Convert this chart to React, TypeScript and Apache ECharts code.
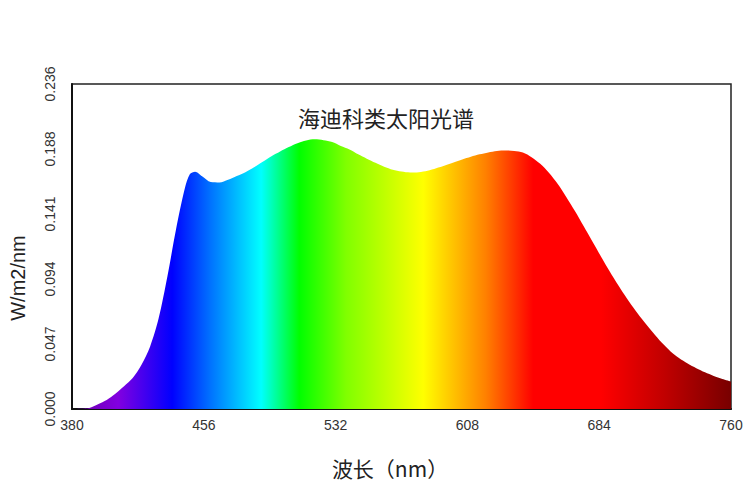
import React, { useEffect, useRef } from "react";
import * as echarts from "echarts";

const wavelengths = [
  380, 385, 390, 395, 400, 405, 410, 415, 420, 425, 430, 435, 440, 445, 448, 451, 455, 460, 465, 470,
  475, 480, 485, 490, 495, 500, 505, 510, 515, 520, 525, 530, 535, 540, 545, 550, 555, 560, 565, 570,
  575, 580, 585, 590, 595, 600, 605, 610, 615, 620, 625, 630, 635, 640, 645, 650, 655, 660, 665, 670,
  675, 680, 685, 690, 695, 700, 705, 710, 715, 720, 725, 730, 735, 740, 745, 750, 755, 760,
];
const irradiance = [
  0.0, 0.0002, 0.0008, 0.0035, 0.0065, 0.011, 0.0165, 0.0225, 0.032, 0.0452, 0.066, 0.0962, 0.1305, 0.16,
  0.1706, 0.1723, 0.169, 0.1648, 0.1645, 0.1665, 0.1692, 0.172, 0.1755, 0.1795, 0.1835, 0.187, 0.1902,
  0.193, 0.195, 0.1958, 0.1952, 0.1938, 0.191, 0.1885, 0.185, 0.1818, 0.1788, 0.176, 0.1738, 0.1724,
  0.1717, 0.172, 0.173, 0.1748, 0.1768, 0.179, 0.1812, 0.1832, 0.1849, 0.1863, 0.1874, 0.1877, 0.1874,
  0.1862, 0.1828, 0.178, 0.1715, 0.1635, 0.154, 0.1437, 0.1328, 0.1218, 0.1108, 0.1, 0.0898, 0.0802,
  0.0713, 0.0631, 0.0555, 0.0482, 0.042, 0.037, 0.033, 0.0296, 0.0266, 0.024, 0.0218, 0.02,
];
const yTickLabels = ["0.000", "0.047", "0.094", "0.141", "0.188", "0.236"];
const chartTitle = "海迪科类太阳光谱";
const xName = "波长（nm）";
const yName = "W/m2/nm";

const spectrumStops = [
  { offset: 0, color: "#6a00a8" },
  { offset: 0.07, color: "#8200e0" },
  { offset: 0.152, color: "#0000ff" },
  { offset: 0.209, color: "#0070ff" },
  { offset: 0.287, color: "#00ffff" },
  { offset: 0.345, color: "#00ff00" },
  { offset: 0.416, color: "#80ff00" },
  { offset: 0.533, color: "#ffff00" },
  { offset: 0.628, color: "#ff8000" },
  { offset: 0.7, color: "#ff0000" },
  { offset: 0.803, color: "#ff0000" },
  { offset: 0.9, color: "#c00000" },
  { offset: 1, color: "#780000" },
];

export default function App() {
  const ref = useRef<HTMLDivElement>(null);
  useEffect(() => {
    if (!ref.current) return;
    const chart = echarts.init(ref.current, null, { renderer: "svg" });
    const data = wavelengths.map((w, i) => [w, irradiance[i]]);
    const fill = new echarts.graphic.LinearGradient(0, 0, 1, 0, spectrumStops);
    chart.setOption({
      animation: false,
      backgroundColor: "#ffffff",
      grid: {
        left: 72,
        right: 19,
        top: 84,
        bottom: 80,
        show: true,
        borderColor: "#222",
        borderWidth: 1.5,
        backgroundColor: "transparent",
      },
      graphic: [
        {
          type: "text",
          x: 386,
          y: 117,
          style: {
            text: chartTitle,
            fontSize: 22,
            fontFamily: "'Noto Sans CJK SC', sans-serif",
            fill: "#222",
            align: "center",
            verticalAlign: "middle",
          },
        },
        {
          type: "text",
          x: 390,
          y: 468,
          style: {
            text: xName,
            fontSize: 21,
            fontFamily: "'Noto Sans CJK SC', sans-serif",
            fill: "#222",
            align: "center",
            verticalAlign: "middle",
          },
        },
        {
          type: "text",
          x: 18,
          y: 278,
          rotation: Math.PI / 2,
          style: {
            text: yName,
            fontSize: 20,
            fontFamily: "'Liberation Sans', Arial, sans-serif",
            fill: "#222",
            align: "center",
            verticalAlign: "middle",
          },
        },
      ],
      xAxis: {
        type: "value",
        min: 380,
        max: 760,
        interval: 76,
        axisLine: { show: true, lineStyle: { color: "#111", width: 2 } },
        axisTick: { show: false },
        splitLine: { show: false },
        axisLabel: {
          margin: 9,
          fontSize: 14,
          color: "#333",
          fontFamily: "'Liberation Sans Narrow', 'Arial Narrow', 'Liberation Sans', sans-serif",
        },
      },
      yAxis: {
        type: "value",
        min: 0,
        max: 0.236,
        interval: 0.0472,
        axisLine: { show: true, lineStyle: { color: "#111", width: 2 } },
        axisTick: { show: false },
        splitLine: { show: false },
        axisLabel: {
          rotate: 90,
          margin: 15,
          fontSize: 14,
          color: "#333",
          fontFamily: "'Liberation Sans', Arial, sans-serif",
          formatter: (_v: number, i: number) => yTickLabels[i] ?? "",
        },
      },
      series: [
        {
          type: "line",
          data,
          showSymbol: false,
          symbol: "none",
          smooth: 0.3,
          lineStyle: { width: 0 },
          areaStyle: { color: fill, opacity: 1 },
        },
      ],
    });
    return () => chart.dispose();
  }, []);
  return (
    <div
      ref={ref}
      style={{ position: "absolute", left: 0, top: 0, width: 750, height: 489 }}
    />
  );
}
